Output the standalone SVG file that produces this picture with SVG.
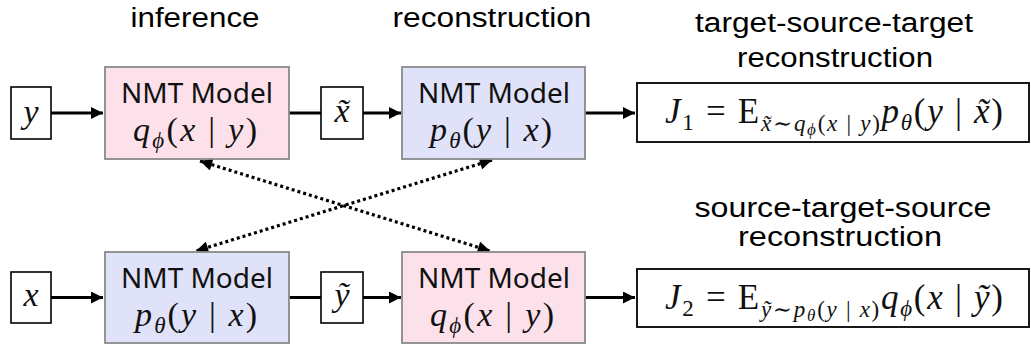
<svg xmlns="http://www.w3.org/2000/svg" width="1031" height="345" viewBox="0 0 1031 345">
  <style>
    .title { font-family: "Liberation Sans", Arial, sans-serif; font-size: 27px; fill: #000; text-anchor: middle; }
    .model { fill: #fde1ea; stroke: #8a8a8a; stroke-width: 1.8; }
    .modelB { fill: #dfe2f8; stroke: #8a8a8a; stroke-width: 1.8; }
    .var { fill: #fff; stroke: #000; stroke-width: 1.6; }
    .obj { fill: #fff; stroke: #000; stroke-width: 1.8; }
    .lbl { font-family: "Noto Sans", "Open Sans", sans-serif; font-size: 27px; fill: #111; text-anchor: middle; }
    .math { font-family: "Liberation Serif", "DejaVu Serif", serif; font-size: 34px; fill: #111; text-anchor: middle; }
    .mathL { font-family: "Liberation Serif", "DejaVu Serif", serif; font-size: 35px; fill: #111; }
    .it { font-style: italic; }
    .sub { font-size: 23px; }
    .subS { font-size: 23px; }
    .subT { font-size: 17px; }
    .flow { stroke: #000; stroke-width: 3; fill: none; }
    .dots { stroke: #000; stroke-width: 3.2; fill: none; stroke-dasharray: 3 3; }
  </style>
  <defs>
    <marker id="head" viewBox="0 0 10 10" refX="10" refY="5" markerWidth="4.5" markerHeight="4" orient="auto" markerUnits="strokeWidth">
      <path d="M0,0 L10,5 L0,10 Z" fill="#000"/>
    </marker>
    <marker id="headD" viewBox="0 0 10 10" refX="10" refY="5" markerWidth="4.2" markerHeight="3.8" orient="auto-start-reverse" markerUnits="strokeWidth">
      <path d="M0,0 L10,5 L0,10 Z" fill="#000"/>
    </marker>
  </defs>

  <!-- column headings -->
  <g id="headings">
    <text class="title" x="195" y="27" textLength="129" lengthAdjust="spacingAndGlyphs">inference</text>
    <text class="title" x="492" y="27" textLength="199" lengthAdjust="spacingAndGlyphs">reconstruction</text>
    <text class="title" x="834" y="32" textLength="278" lengthAdjust="spacingAndGlyphs">target-source-target</text>
    <text class="title" x="835" y="67" textLength="196" lengthAdjust="spacingAndGlyphs">reconstruction</text>
    <text class="title" x="843" y="217" textLength="297" lengthAdjust="spacingAndGlyphs">source-target-source</text>
    <text class="title" x="840" y="246" textLength="204" lengthAdjust="spacingAndGlyphs">reconstruction</text>
  </g>

  <!-- connectors -->
  <g id="connectors">
    <line class="flow" x1="51" y1="113" x2="103" y2="113" marker-end="url(#head)"/>
    <line class="flow" x1="289" y1="113" x2="321" y2="113"/>
    <line class="flow" x1="363" y1="113" x2="401" y2="113" marker-end="url(#head)"/>
    <line class="flow" x1="585" y1="113" x2="635" y2="113" marker-end="url(#head)"/>

    <line class="flow" x1="51" y1="297.5" x2="103" y2="297.5" marker-end="url(#head)"/>
    <line class="flow" x1="289" y1="297.5" x2="321" y2="297.5"/>
    <line class="flow" x1="363" y1="297.5" x2="401" y2="297.5" marker-end="url(#head)"/>
    <line class="flow" x1="585" y1="297.5" x2="635" y2="297.5" marker-end="url(#head)"/>

    <line class="dots" x1="200" y1="161" x2="490" y2="251" marker-start="url(#headD)" marker-end="url(#headD)"/>
    <line class="dots" x1="492" y1="160" x2="196" y2="251" marker-start="url(#headD)" marker-end="url(#headD)"/>
  </g>

  <!-- top row -->
  <g id="var-y">
    <rect class="var" x="11" y="87" width="40" height="52"/>
    <text class="math it" x="31" y="123">y</text>
  </g>
  <g id="inference-model">
    <rect class="model" x="105" y="67" width="184" height="92"/>
    <text class="lbl" x="197" y="103" textLength="152" lengthAdjust="spacingAndGlyphs">NMT Model</text>
    <text class="math" x="195" y="141" textLength="124" lengthAdjust="spacing"><tspan class="it">q</tspan><tspan class="sub it" dy="7">ϕ</tspan><tspan dy="-7">(</tspan><tspan class="it">x</tspan> | <tspan class="it">y</tspan>)</text>
  </g>
  <g id="var-x-tilde">
    <rect class="var" x="321" y="87" width="42" height="52"/>
    <text class="math it" x="342" y="122">x̃</text>
  </g>
  <g id="reconstruction-model">
    <rect class="modelB" x="402" y="67" width="183" height="92"/>
    <text class="lbl" x="494" y="103" textLength="152" lengthAdjust="spacingAndGlyphs">NMT Model</text>
    <text class="math" x="491" y="141" textLength="122" lengthAdjust="spacing"><tspan class="it">p</tspan><tspan class="sub it" dy="7">θ</tspan><tspan dy="-7">(</tspan><tspan class="it">y</tspan> | <tspan class="it">x</tspan>)</text>
  </g>
  <g id="objective-J1">
    <rect class="obj" x="637" y="83" width="392" height="59"/>
    <text class="mathL" x="665" y="123" textLength="338" lengthAdjust="spacing"><tspan class="it">J</tspan><tspan class="sub" dy="7">1</tspan><tspan dy="-7"> = E</tspan><tspan class="subS" dy="8"><tspan class="it">x̃</tspan>∼<tspan class="it">q</tspan><tspan class="subT it" dy="4">ϕ</tspan><tspan dy="-4">(</tspan><tspan class="it">x</tspan> | <tspan class="it">y</tspan>)</tspan><tspan class="it" dy="-8">p</tspan><tspan class="sub it" dy="7">θ</tspan><tspan dy="-7">(</tspan><tspan class="it">y</tspan> | <tspan class="it">x̃</tspan>)</text>
  </g>

  <!-- bottom row -->
  <g id="var-x">
    <rect class="var" x="11" y="272" width="40" height="51"/>
    <text class="math it" x="31" y="306">x</text>
  </g>
  <g id="inference-model-2">
    <rect class="modelB" x="105" y="252" width="184" height="91"/>
    <text class="lbl" x="197" y="288" textLength="152" lengthAdjust="spacingAndGlyphs">NMT Model</text>
    <text class="math" x="196" y="326" textLength="122" lengthAdjust="spacing"><tspan class="it">p</tspan><tspan class="sub it" dy="7">θ</tspan><tspan dy="-7">(</tspan><tspan class="it">y</tspan> | <tspan class="it">x</tspan>)</text>
  </g>
  <g id="var-y-tilde">
    <rect class="var" x="321" y="272" width="42" height="51"/>
    <text class="math it" x="342" y="306">ỹ</text>
  </g>
  <g id="reconstruction-model-2">
    <rect class="model" x="402" y="252" width="183" height="91"/>
    <text class="lbl" x="494" y="288" textLength="152" lengthAdjust="spacingAndGlyphs">NMT Model</text>
    <text class="math" x="492" y="326" textLength="124" lengthAdjust="spacing"><tspan class="it">q</tspan><tspan class="sub it" dy="7">ϕ</tspan><tspan dy="-7">(</tspan><tspan class="it">x</tspan> | <tspan class="it">y</tspan>)</text>
  </g>
  <g id="objective-J2">
    <rect class="obj" x="637" y="269" width="392" height="58"/>
    <text class="mathL" x="665" y="309" textLength="338" lengthAdjust="spacing"><tspan class="it">J</tspan><tspan class="sub" dy="7">2</tspan><tspan dy="-7"> = E</tspan><tspan class="subS" dy="8"><tspan class="it">ỹ</tspan>∼<tspan class="it">p</tspan><tspan class="subT it" dy="4">θ</tspan><tspan dy="-4">(</tspan><tspan class="it">y</tspan> | <tspan class="it">x</tspan>)</tspan><tspan class="it" dy="-8">q</tspan><tspan class="sub it" dy="7">ϕ</tspan><tspan dy="-7">(</tspan><tspan class="it">x</tspan> | <tspan class="it">ỹ</tspan>)</text>
  </g>
</svg>
